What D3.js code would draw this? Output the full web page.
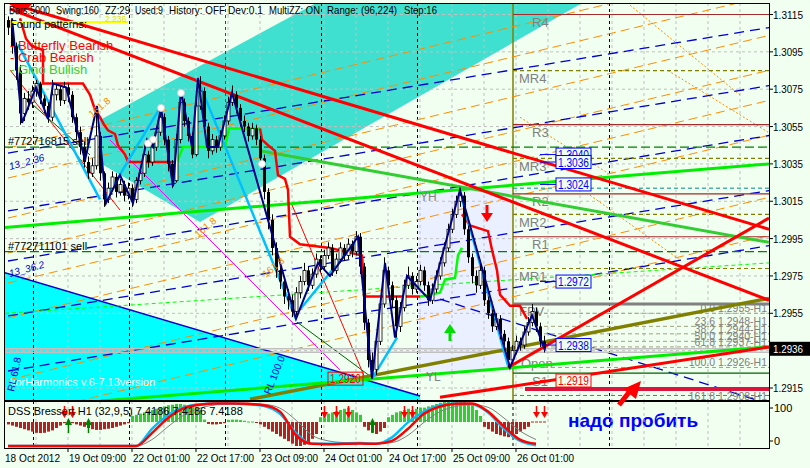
<!DOCTYPE html>
<html><head><meta charset="utf-8">
<script src="https://cdn.jsdelivr.net/npm/d3@7"></script>
<style>
body{margin:0;background:#F0FFF0;}
text{font-family:"Liberation Sans",Arial,sans-serif;}
</style></head>
<body><svg id="c" width="810" height="468"></svg>
<script>
// ---------------- DATA ----------------
const firstOpen = 1.3112;
const closes = [1.3108,1.3098,1.3085,1.3062,1.3070,1.3068,1.3074,1.3078,1.3070,1.3066,
1.3060,1.3072,1.3075,1.3069,1.3076,1.3072,1.3060,1.3052,1.3044,1.3036,
1.3030,1.3034,1.3050,1.3030,1.3016,1.3022,1.3028,1.3020,1.3024,1.3018,
1.3022,1.3016,1.3026,1.3030,1.3040,1.3036,1.3044,1.3052,1.3060,1.3048,
1.3035,1.3026,1.3048,1.3068,1.3058,1.3050,1.3040,1.3066,1.3074,1.3055,
1.3042,1.3048,1.3044,1.3050,1.3058,1.3068,1.3072,1.3065,1.3058,1.3055,
1.3050,1.3054,1.3048,1.3038,1.3020,1.3005,1.2990,1.2978,1.2972,1.2964,
1.2962,1.2956,1.2966,1.2972,1.2978,1.2970,1.2976,1.2984,1.2980,1.2986,
1.2990,1.2978,1.2984,1.2990,1.2986,1.2992,1.2988,1.2996,1.2980,1.2950,
1.2930,1.2925,1.2940,1.2960,1.2978,1.2970,1.2962,1.2948,1.2958,1.2970,
1.2975,1.2968,1.2972,1.2978,1.2970,1.2962,1.2968,1.2975,1.2982,1.2990,
1.3000,1.3008,1.3015,1.3018,1.3000,1.2985,1.2975,1.2970,1.2978,1.2962,
1.2955,1.2948,1.2952,1.2944,1.2940,1.2930,1.2935,1.2940,1.2938,1.2945,
1.2950,1.2956,1.2948,1.2940,1.2936];
const highs = [1.3114,1.3110,1.3100,1.3088,1.3073,1.3074,1.3077,1.3080,1.3079,1.3072,
1.3068,1.3080,1.3078,1.3077,1.3079,1.3078,1.3074,1.3062,1.3055,1.3047,
1.3039,1.3038,1.3064,1.3052,1.3031,1.3025,1.3031,1.3030,1.3027,1.3026,
1.3025,1.3024,1.3028,1.3034,1.3046,1.3042,1.3047,1.3055,1.3064,1.3062,
1.3050,1.3037,1.3051,1.3073,1.3070,1.3060,1.3052,1.3069,1.3082,1.3076,
1.3057,1.3051,1.3050,1.3053,1.3061,1.3071,1.3077,1.3074,1.3067,1.3061,
1.3057,1.3057,1.3056,1.3050,1.3040,1.3022,1.3008,1.2993,1.2981,1.2975,
1.2968,1.2965,1.2969,1.2975,1.2982,1.2980,1.2979,1.2987,1.2986,1.2989,
1.2993,1.2992,1.2987,1.2993,1.2992,1.2995,1.2994,1.2999,1.2998,1.2982,
1.2952,1.2934,1.2943,1.2963,1.2985,1.2980,1.2972,1.2964,1.2961,1.2973,
1.2980,1.2977,1.2975,1.2981,1.2980,1.2972,1.2971,1.2978,1.2985,1.2993,
1.3003,1.3011,1.3018,1.3022,1.3020,1.3002,1.2987,1.2978,1.2981,1.2980,
1.2964,1.2957,1.2955,1.2954,1.2946,1.2942,1.2938,1.2943,1.2942,1.2948,
1.2953,1.2960,1.2958,1.2950,1.2943];
const lows = [1.3104,1.3094,1.3080,1.3056,1.3058,1.3064,1.3065,1.3071,1.3067,1.3062,
1.3057,1.3058,1.3069,1.3066,1.3067,1.3068,1.3057,1.3048,1.3040,1.3033,
1.3027,1.3028,1.3032,1.3026,1.3012,1.3014,1.3020,1.3017,1.3018,1.3015,
1.3016,1.3012,1.3014,1.3024,1.3028,1.3033,1.3034,1.3042,1.3050,1.3045,
1.3031,1.3022,1.3025,1.3046,1.3055,1.3047,1.3038,1.3039,1.3064,1.3052,
1.3038,1.3040,1.3041,1.3042,1.3048,1.3056,1.3066,1.3062,1.3055,1.3052,
1.3047,1.3048,1.3045,1.3035,1.3016,1.3000,1.2986,1.2974,1.2968,1.2960,
1.2957,1.2953,1.2954,1.2963,1.2970,1.2967,1.2968,1.2974,1.2977,1.2978,
1.2984,1.2975,1.2976,1.2982,1.2983,1.2984,1.2985,1.2986,1.2976,1.2946,
1.2926,1.2920,1.2922,1.2938,1.2958,1.2966,1.2958,1.2942,1.2945,1.2956,
1.2968,1.2965,1.2966,1.2970,1.2967,1.2959,1.2960,1.2966,1.2973,1.2980,
1.2988,1.2998,1.3006,1.3012,1.2997,1.2982,1.2971,1.2966,1.2968,1.2959,
1.2952,1.2945,1.2946,1.2941,1.2936,1.2926,1.2928,1.2933,1.2935,1.2936,
1.2943,1.2948,1.2945,1.2937,1.2934];

const priceTicks = [1.3115,1.3095,1.3075,1.3055,1.3035,1.3015,1.2995,1.2975,1.2955,1.2935,1.2915];
const timeLabels = ["18 Oct 2012","19 Oct 09:00","22 Oct 01:00","22 Oct 17:00","23 Oct 09:00","24 Oct 01:00","24 Oct 17:00","25 Oct 09:00","26 Oct 01:00"];
const timeLabelBars = [-0.75,15,31,47,63,79,95,111,127];
const daySeparators = [6.25,30.25,54.25,78.25,102.25,150.25];
const lastPrice = 1.2936;

// zigzag & pattern legs [bar, price]
const zigzag = [[1,1.3113],[3.5,1.3057],[7,1.3076],[10,1.3059],[11.25,1.3078],[14.5,1.3076],[19.25,1.3037],[22.25,1.3066],[24.5,1.3014],[28,1.3029],[31.25,1.3014],[34.75,1.3048],[36.25,1.3044],[38.25,1.3065],[41.25,1.3023],[43.25,1.3074],[46,1.3044],[47.5,1.3081],[49.75,1.3044],[52.5,1.3044],[56,1.3073],[72,1.2952],[77.5,1.2982],[80.5,1.2975],[87.5,1.2996],[91,1.2920],[94.25,1.2982],[96.75,1.2942],[99.75,1.2975],[105.5,1.2962],[113,1.3021],[125.5,1.2926],[131,1.2954],[134.25,1.2935]];
const skyLegs = [[[2.5,1.3099],[23,1.3016]],[[24.25,1.3016],[38,1.3065]],[[47.25,1.3081],[72,1.2952]],[[73,1.2957],[87.5,1.2995]],[[91,1.2920],[97.25,1.2942]],[[113,1.3020],[125,1.2927]]];
const swingMarks = [[38.25,1.3065],[43.25,1.3073],[35,1.3046],[36.25,1.3048],[63.5,1.3035]];

// trailing stop steps
const stopRed1 = [[3,1.3113],[4.5,1.3102],[6,1.3098],[8.75,1.3096],[8.75,1.3078],[18.75,1.3078],[20.5,1.3072],[21.75,1.3064],[23,1.3060],[24,1.3056],[25,1.3053],[26.75,1.3051],[27.5,1.3045],[29.25,1.3040],[30,1.3036],[42.25,1.3036]];
const stopGreen1 = [[42.25,1.3036],[43.75,1.3044],[54.25,1.3044],[55.25,1.3054],[63,1.3054]];
const stopRed2 = [[63,1.3054],[63.5,1.3048],[65,1.3045],[66.75,1.3042],[67.5,1.3029],[69.25,1.3027],[70,1.3021],[70.5,1.2996],[73,1.2992],[80.5,1.2990],[88.5,1.2986],[89.25,1.2964],[103,1.2964]];
const stopGreen2 = [[103,1.2964],[108,1.2966],[109.25,1.2973],[111.75,1.2974],[112.5,1.2986],[113.5,1.2990]];
const stopRed3 = [[113.5,1.3008],[115.5,1.3002],[120,1.2999],[121,1.2989],[122.25,1.2978],[123,1.2965],[125.5,1.2959],[128,1.2959],[129.75,1.2952]];

// trend lines
const redThick = [[[0.5,1.3121],[190.25,1.3000]],[[0.5,1.3118],[190.25,1.2962]],[[125,1.2926],[190.25,1.3006]],[[108,1.2910],[190.25,1.2937]]];
const limeThick = [[[-0.75,1.3001],[190.25,1.3035]],[[23,1.2908],[190.25,1.2937]]];
const greenThick = [[[63,1.3042],[190.25,1.2993]]];
const oliveThick = [[[60.5,1.2909],[190.25,1.2963]]];
const lightGreenDash = [[-0.75,1.2955],[190.25,1.2982]];
const orangeDash = [[[0,1.30435],[190.25,1.31413]],[[0,1.30274],[190.25,1.31252]],[[0,1.3006],[190.25,1.31038]],[[0,1.29873],[190.25,1.30851]],[[0,1.29712],[190.25,1.3069]],[[0,1.29525],[190.25,1.30503]],[[0,1.29193],[190.25,1.30171]],[[0,1.2899],[190.25,1.29967]]];
const orangeThin = [[[155.5,1.3120],[183,1.30719]],[[145.5,1.30183],[168,1.29835]],[[128,1.3060],[150,1.3030]],[[165,1.3085],[190,1.3052]]];
const blueDash = [[[0,1.30408],[190.25,1.3108]],[[0,1.30098],[190.25,1.30769]],[[0,1.2983],[190.25,1.30502]],[[0,1.29536],[190.25,1.30207]],[[0,1.29241],[190.25,1.29912]],[[108,1.29626],[190.25,1.29064]]];
const magentaLine = [[25.5,1.30478],[83,1.29246]];
const darkGreenThin = [[[4.25,1.30703],[20.5,1.30398]],[[72.25,1.29503],[90.5,1.29214]]];
const redThin = [[[71,1.3013],[89.25,1.29203]],[[0.5,1.30853],[28,1.30103]]];
const turquoiseZone = [[23,1.30585],[77.75,1.3122],[144.25,1.3122],[48,1.30039],[23,1.30355]];
const aquaZone = [[-2,1.29775],[103,1.29107],[103,1.2900],[-2,1.2900]];
const yesterdayBox = {start:102.5, end:126.25, high:1.3021, low:1.29236};

// pivots
const pivotNames = ["R4","MR4","R3","MR3","R2","MR2","R1","MR1","FPV","S1"];
const pivotPrices = [1.3115,1.3085,1.3056,1.3038,1.3019,1.3008,1.2996,1.2979,1.2960,1.2923];
const orderLines = [1.3044,1.2988];
const orderNames = ["#772716815 sell","#772711101 sell"];
const boxPrices = [1.3040,1.3036,1.3024,1.2972,1.2938,1.2919];
const boxColors = ["blue","blue","blue","blue","blue","red"];
const fibLevels = ["0.0","23.6","38.2","50.0","61.8","100.0","161.8"];
const fibPrices = [1.2955,1.2948,1.2944,1.2940,1.2937,1.2926,1.2908];

// DSS sub window
const dssHist = [-0.10,-0.15,-0.2,-0.25,-0.3,-0.35,-0.4,-0.45,-0.46,-0.45,-0.4,-0.35,-0.25,-0.15,-0.05,0.05,-0.05,-0.1,-0.15,-0.2,
-0.25,-0.3,-0.33,-0.33,-0.3,-0.28,-0.25,-0.2,-0.15,-0.1,-0.05,
0.25,0.3,0.35,0.4,0.45,0.5,0.55,0.6,0.65,0.7,0.72,0.75,0.75,0.72,0.7,0.65,0.6,0.5,
0.1,-0.08,-0.1,-0.1,-0.08,-0.05,0.08,0.1,0.1,0.08,0.05,0.02,0.02,-0.02,
-0.1,-0.2,-0.3,-0.4,-0.5,-0.6,-0.7,-0.8,-0.9,-1,-1,-0.95,-0.85,-0.7,-0.5,
0.2,0.3,0.35,0.4,0.45,0.5,0.55,0.6,0.5,0.4,0.3,
-0.2,-0.35,-0.45,-0.5,-0.4,-0.25,
0.2,0.3,0.4,0.45,0.5,0.55,
0.5,0.55,0.6,0.6,0.65,0.7,0.75,0.8,0.85,0.85,0.9,0.92,0.9,0.88,0.8,0.7,0.5,0.25,
-0.2,-0.3,-0.4,-0.5,-0.55,-0.6,-0.63,-0.6,-0.5,-0.4,-0.3,-0.2,
0,0,0,0];
const dssMain = [0,0,0,0,0,0,0,0,0,40,72,90,97,99,99,97,93,75,30,5,5,6,7,5,20,55,80,95,99,97,78,40,12,2];
const dssSignal = [0,0,0,0,0,0,0,0,0,30,65,88,96,99,99,98,95,80,25,5,4,5,6,5,12,40,75,92,98,99,80,45,15,5];
const dssSlow = [0,0,0,0,0,0,0,0,0,15,45,72,88,96,99,99,97,88,60,25,12,8,7,6,8,25,55,80,92,96,90,65,35,15];
const dssStep = 4;
const sigDown = [14,16,79,82,85,99,101,132,134];
const sigUp = [15,20,91];

// header
const headerItems = ["Bars:5000","Swing:160","ZZ:29","Used:9","History: OFF","Dev:0.1","MultiZZ: ON","Range: (96,224)","Step:16"];
const patternNames = ["- Butterfly Bearish","- Crab Bearish","- Gino Bullish"];

// ---------------- DRAW ----------------
const svg = d3.select("#c");
const W=810,H=468, L=4, R=769, T=3, B=400, ST=401, SB=448;
svg.append("rect").attr("width",W).attr("height",H).attr("fill","#F0FFF0");

const xS = d3.scaleLinear().domain([0,134]).range([8,544]);
const yS = d3.scaleLinear().domain([1.2915,1.3115]).range([388,14.5]);
const dS = d3.scaleLinear().domain([0,100]).range([446,403]);
const hS = d3.scaleLinear().domain([-1,1]).range([446,398]);
const line = d3.line().x(d=>xS(d[0])).y(d=>yS(d[1]));

const defs = svg.append("defs");
defs.append("clipPath").attr("id","cm").append("rect").attr("x",L+1).attr("y",T+1).attr("width",R-L-1).attr("height",B-T-1);
defs.append("clipPath").attr("id","cs").append("rect").attr("x",L+1).attr("y",ST+1).attr("width",R-L-1).attr("height",SB-ST-1);

const g = svg.append("g").attr("clip-path","url(#cm)");

// zones
g.append("path").attr("d",line(turquoiseZone)+"Z").attr("fill","#40E0D0");
g.append("path").attr("d",line(aquaZone)+"Z").attr("fill","#00FFFF");
g.append("rect").attr("x",xS(yesterdayBox.start)).attr("y",yS(yesterdayBox.high))
 .attr("width",xS(yesterdayBox.end)-xS(yesterdayBox.start)).attr("height",yS(yesterdayBox.low)-yS(yesterdayBox.high))
 .attr("fill","#EAF0FF");

// grid
priceTicks.forEach(p=>g.append("line").attr("x1",L).attr("x2",R).attr("y1",yS(p)).attr("y2",yS(p))
 .attr("stroke","#C0C0C0").attr("stroke-dasharray","3,3"));
const gridBars = d3.range(-1,192,8);
gridBars.forEach(b=>g.append("line").attr("x1",xS(b)).attr("x2",xS(b)).attr("y1",T).attr("y2",B)
 .attr("stroke","#C0C0C0").attr("stroke-dasharray","3,3"));
daySeparators.forEach((b,k)=>g.append("line").attr("x1",xS(b)+0.5).attr("x2",xS(b)+0.5).attr("y1",T).attr("y2",B)
 .attr("stroke",k===2?"#E00000":"#000").attr("stroke-dasharray","3,3"));
g.append("line").attr("x1",xS(126.25)).attr("x2",xS(126.25)).attr("y1",T).attr("y2",B).attr("stroke","#808000").attr("stroke-width",1.5);

// fan/channel lines
orangeDash.forEach(s=>g.append("path").attr("d",line(s)).attr("stroke","#FF8C00").attr("fill","none").attr("stroke-dasharray","9,5"));
orangeThin.forEach(s=>g.append("path").attr("d",line(s)).attr("stroke","#FF8C00").attr("fill","none").attr("stroke-dasharray","2,2"));
blueDash.forEach(s=>g.append("path").attr("d",line(s)).attr("stroke","#0000CD").attr("fill","none").attr("stroke-width",1.3).attr("stroke-dasharray","10,6"));
g.append("path").attr("d",line(magentaLine)).attr("stroke","#FF00FF").attr("fill","none");
darkGreenThin.forEach(s=>g.append("path").attr("d",line(s)).attr("stroke","#006400").attr("fill","none"));
redThin.forEach(s=>g.append("path").attr("d",line(s)).attr("stroke","#FF0000").attr("fill","none"));
g.append("path").attr("d",line([aquaZone[0],aquaZone[1]])).attr("stroke","#0000CD").attr("stroke-width",1.5).attr("fill","none");
g.append("path").attr("d",line(lightGreenDash)).attr("stroke","#00FF00").attr("fill","none").attr("stroke-dasharray","4,3");

// pivot lines
const pvX0 = xS(126.25);
pivotNames.forEach((n,k)=>{
  const p = pivotPrices[k], y = yS(p);
  let col="#A52A2A", dash=null, w=1.2;
  if(n.startsWith("M")){col="#808000";dash="4,3";}
  if(n==="FPV"){col="#808080";w=3;}
  if(n==="S1"){col="#006400";}
  g.append("line").attr("x1",pvX0).attr("x2",R).attr("y1",y).attr("y2",y).attr("stroke",col).attr("stroke-width",w).attr("stroke-dasharray",dash);
  g.append("text").attr("x",n.length>2||n.startsWith("M")?pvX0+6:pvX0+19).attr("y",y+12.5).attr("fill","#808080").attr("font-size",13).text(n);
});
g.append("line").attr("x1",pvX0).attr("x2",R).attr("y1",yS(1.3022)).attr("y2",yS(1.3022)).attr("stroke","#008B8B").attr("stroke-dasharray","4,3");
g.append("line").attr("x1",pvX0).attr("x2",R).attr("y1",yS(1.2911)).attr("y2",yS(1.2911)).attr("stroke","#808000").attr("stroke-dasharray","4,3");
g.append("text").attr("x",pvX0+8).attr("y",yS(1.2932)+12).attr("fill","#808080").attr("font-size",13).text("Open");
g.append("text").attr("x",pvX0+6).attr("y",yS(1.2905)+12).attr("fill","#808080").attr("font-size",13).text("MS2");
orderLines.forEach(p=>g.append("line").attr("x1",L).attr("x2",R).attr("y1",yS(p)).attr("y2",yS(p)).attr("stroke","#008000").attr("stroke-width",1.2).attr("stroke-dasharray","9,4"));
fibPrices.forEach((p,k)=>{
  g.append("line").attr("x1",xS(134)).attr("x2",R).attr("y1",yS(p)).attr("y2",yS(p)).attr("stroke","#A0A080").attr("stroke-dasharray","4,3");
  g.append("text").attr("x",R-2).attr("y",yS(p)-1).attr("text-anchor","end").attr("fill","#808080").attr("font-size",10.5).text(fibLevels[k]+" "+p.toFixed(4)+"-H1");
});
// bid lines
g.append("line").attr("x1",L).attr("x2",R).attr("y1",yS(lastPrice)).attr("y2",yS(lastPrice)).attr("stroke","#C0C0C0").attr("stroke-width",1.5);
g.append("line").attr("x1",L).attr("x2",R).attr("y1",yS(lastPrice-0.00018)).attr("y2",yS(lastPrice-0.00018)).attr("stroke","#C0C0C0").attr("stroke-width",1.5);

// thick trend lines
oliveThick.forEach(s=>g.append("path").attr("d",line(s)).attr("stroke","#808000").attr("stroke-width",3.5).attr("fill","none"));
limeThick.forEach(s=>g.append("path").attr("d",line(s)).attr("stroke","#00EE00").attr("stroke-width",3).attr("fill","none"));
greenThick.forEach(s=>g.append("path").attr("d",line(s)).attr("stroke","#32CD32").attr("stroke-width",3).attr("fill","none"));
redThick.forEach(s=>g.append("path").attr("d",line(s)).attr("stroke","#FF0000").attr("stroke-width",3).attr("fill","none"));
g.append("line").attr("x1",xS(129.25)).attr("x2",R).attr("y1",yS(1.29145)).attr("y2",yS(1.29145)).attr("stroke","#DC143C").attr("stroke-width",4);

// trailing stop
[[stopRed1,"#FF0000"],[stopGreen1,"#00FF00"],[stopRed2,"#FF0000"],[stopGreen2,"#00FF00"],[stopRed3,"#FF0000"]]
 .forEach(([s,c])=>g.append("path").attr("d",line(s)).attr("stroke",c).attr("stroke-width",2.5).attr("fill","none"));

// pattern legs
skyLegs.forEach(s=>g.append("path").attr("d",line(s)).attr("stroke","#00BFFF").attr("stroke-width",2.5).attr("fill","none"));

// candles
closes.forEach((c,i)=>{
  const o = i?closes[i-1]:firstOpen, x=xS(i);
  g.append("line").attr("x1",x+0.5).attr("x2",x+0.5).attr("y1",yS(highs[i])).attr("y2",yS(lows[i])).attr("stroke","#000");
  const top=yS(Math.max(o,c)), bot=yS(Math.min(o,c));
  g.append("rect").attr("x",x-1).attr("y",top).attr("width",3).attr("height",Math.max(1,bot-top))
   .attr("fill",c>=o?"#FFF":"#000").attr("stroke","#000").attr("stroke-width",c>=o?0.8:0);
});
g.append("path").attr("d",line(zigzag)).attr("stroke","#000080").attr("stroke-width",2).attr("fill","none");
swingMarks.forEach(d=>g.append("circle").attr("cx",xS(d[0])).attr("cy",yS(d[1])).attr("r",3.5).attr("fill","#FFF").attr("stroke","#D0D0D0"));

// price boxes
boxPrices.forEach((p,k)=>{
  const y=yS(p), c=boxColors[k];
  g.append("line").attr("x1",xS(133)).attr("x2",xS(137)).attr("y1",y).attr("y2",y).attr("stroke",c);
  g.append("rect").attr("x",xS(137)).attr("y",y-6.5).attr("width",35).attr("height",13).attr("fill","#F0FFF0").attr("stroke",c);
  g.append("text").attr("x",xS(137)+2).attr("y",y+4.5).attr("fill",c).attr("font-size",12).attr("textLength",31).attr("lengthAdjust","spacingAndGlyphs").text(p.toFixed(4));
});
g.append("rect").attr("x",xS(80)).attr("y",yS(1.2920)-6.5).attr("width",35).attr("height",13).attr("fill","none").attr("stroke","red");
g.append("text").attr("x",xS(80)+2).attr("y",yS(1.2920)+4.5).attr("fill","red").attr("font-size",12).attr("textLength",31).attr("lengthAdjust","spacingAndGlyphs").text("1.2920");

// texts
g.append("text").attr("x",xS(103)).attr("y",yS(yesterdayBox.high)+11).attr("fill","#808080").attr("font-size",12).text("YH");
g.append("text").attr("x",xS(104.5)).attr("y",yS(yesterdayBox.low)+9).attr("fill","#808080").attr("font-size",12).text("YL");
orderNames.forEach((n,k)=>g.append("text").attr("x",8).attr("y",yS(orderLines[k])-2).attr("font-size",11).attr("fill","#000").text(n));
g.append("text").attr("x",10).attr("y",386).attr("fill","#FFF").attr("font-size",11).text("korHarmonics v.6-7.13version");
g.append("line").attr("x1",10).attr("x2",128).attr("y1",22).attr("y2",22).attr("stroke","#FFFF00").attr("stroke-width",2);
g.append("text").attr("x",105).attr("y",21.5).attr("fill","#E0E000").attr("font-size",8.5).text("2.236");
[["13_2.36",10,170,-15],["13_36.2",10,277,-15]].forEach(t=>g.append("text").attr("transform",`translate(${t[1]},${t[2]}) rotate(${t[3]})`).attr("fill","#0000CD").attr("font-size",10).attr("font-style","italic").text(t[0]));
[["RL 61.8",14,392,-78],["RL 100.0",270,395,-68]].forEach(t=>g.append("text").attr("transform",`translate(${t[1]},${t[2]}) rotate(${t[3]})`).attr("fill","#0000CD").attr("font-size",10).text(t[0]));
[["161.8",92,118,-40],["161.8",266,278,-40],["161.8",198,238,-40]].forEach(t=>g.append("text").attr("transform",`translate(${t[1]},${t[2]}) rotate(${t[3]})`).attr("fill","#FF8C00").attr("font-size",10).text(t[0]));

// arrows
g.append("line").attr("x1",487).attr("x2",487).attr("y1",205).attr("y2",215).attr("stroke","#FF0000").attr("stroke-width",3);
g.append("path").attr("d","M481,213 L493,213 L487,222 Z").attr("fill","#FF0000");
g.append("line").attr("x1",450).attr("x2",450).attr("y1",331).attr("y2",341).attr("stroke","#00DD00").attr("stroke-width",3);
g.append("path").attr("d","M444,333 L456,333 L450,324 Z").attr("fill","#00DD00");
g.append("path").attr("d","M10,4 L32,4 L21,15 Z").attr("fill","#FF0000");

// header texts (x start, width as in the reference)
const hdrX = [9,56,105,135,169,228,269,327,404];
const hdrW = [41,43,25,28,56,35,51,70,33];
headerItems.forEach((h,k)=>g.append("text").attr("x",hdrX[k]).attr("y",14).attr("font-size",11).attr("fill","#000")
  .attr("textLength",hdrW[k]).attr("lengthAdjust","spacingAndGlyphs").text(h));
g.append("text").attr("x",10).attr("y",28).attr("font-size",11).attr("fill","#000").text("Found patterns:");
const patColors = ["#FF0000","#FF0000","#32CD32"];
patternNames.forEach((t,k)=>g.append("text").attr("x",10).attr("y",50+k*12).attr("font-size",13).attr("fill",patColors[k]).text(t));

// frames
svg.append("rect").attr("x",L+0.5).attr("y",T+0.5).attr("width",R-L).attr("height",B-T).attr("fill","none").attr("stroke","#000");
svg.append("rect").attr("x",L+0.5).attr("y",ST+0.5).attr("width",R-L).attr("height",SB-ST).attr("fill","none").attr("stroke","#000");

// price axis
priceTicks.forEach(p=>{
  svg.append("line").attr("x1",R).attr("x2",R+4).attr("y1",yS(p)).attr("y2",yS(p)).attr("stroke","#000");
  if(Math.abs(yS(p)-yS(lastPrice))<12) return;
  svg.append("text").attr("x",773).attr("y",yS(p)+4).attr("font-size",11).attr("fill","#000")
   .attr("textLength",30).attr("lengthAdjust","spacingAndGlyphs").text(p.toFixed(4));
});
svg.append("rect").attr("x",R+1).attr("y",yS(lastPrice)-7).attr("width",40).attr("height",14).attr("fill","#000");
svg.append("text").attr("x",773).attr("y",yS(lastPrice)+4).attr("font-size",11).attr("fill","#FFF")
 .attr("textLength",30).attr("lengthAdjust","spacingAndGlyphs").text(lastPrice.toFixed(4));

// red pointer arrow + note
svg.append("line").attr("x1",619).attr("y1",405).attr("x2",630).attr("y2",391).attr("stroke","#FF0000").attr("stroke-width",5);
svg.append("path").attr("d","M623,389 L641,381 L636,399 Z").attr("fill","#FF0000");
svg.append("text").attr("x",568).attr("y",427).attr("font-size",19).attr("font-weight","bold").attr("fill","#0000FF").text("надо пробить");

// sub window
const s = svg.append("g").attr("clip-path","url(#cs)");
gridBars.forEach(b=>s.append("line").attr("x1",xS(b)).attr("x2",xS(b)).attr("y1",ST).attr("y2",SB).attr("stroke","#C0C0C0").attr("stroke-dasharray","3,3"));
daySeparators.forEach(b=>s.append("line").attr("x1",xS(b)+0.5).attr("x2",xS(b)+0.5).attr("y1",ST).attr("y2",SB).attr("stroke","#000").attr("stroke-dasharray","3,3"));
s.append("line").attr("x1",xS(126.25)).attr("x2",xS(126.25)).attr("y1",ST).attr("y2",SB).attr("stroke","#000").attr("stroke-dasharray","3,3");
dssHist.forEach((v,i)=>{
  const x=xS(i);
  if(v===0){s.append("line").attr("x1",x-1).attr("x2",x+2).attr("y1",hS(0)).attr("y2",hS(0)).attr("stroke","#B22222");return;}
  const y0=hS(0), y1=hS(v);
  s.append("rect").attr("x",x-1).attr("y",Math.min(y0,y1)).attr("width",3).attr("height",Math.max(1,Math.abs(y1-y0)))
   .attr("fill",v>0?"#32CD32":"#B22222");
});
const dl = d3.line().x((d,k)=>xS(k*dssStep)).y(d=>dS(d)).curve(d3.curveMonotoneX);
s.append("path").attr("d",dl(dssSlow)).attr("stroke","#808080").attr("fill","none").attr("stroke-width",1);
s.append("path").attr("d",dl(dssMain)).attr("stroke","#00BFFF").attr("fill","none").attr("stroke-width",2.5);
s.append("path").attr("d",dl(dssSignal)).attr("stroke","#FF0000").attr("fill","none").attr("stroke-width",2.5);
sigDown.forEach(b=>{const x=xS(b)+0.5;
  s.append("line").attr("x1",x).attr("x2",x).attr("y1",406).attr("y2",414).attr("stroke","#FF0000").attr("stroke-width",1.5);
  s.append("path").attr("d",`M${x-3.5},${412} L${x+3.5},${412} L${x},${418} Z`).attr("fill","#FF0000");});
sigUp.forEach(b=>{const x=xS(b)+0.5;
  s.append("line").attr("x1",x).attr("x2",x).attr("y1",424).attr("y2",433).attr("stroke","#008000").attr("stroke-width",1.5);
  s.append("path").attr("d",`M${x-3.5},${425} L${x+3.5},${425} L${x},${418} Z`).attr("fill","#008000");});
s.append("text").attr("x",8).attr("y",415).attr("font-size",11).attr("fill","#000").text("DSS Bressert H1 (32,9,5) 7.4186 7.4186 7.4188");
svg.append("text").attr("x",774).attr("y",412).attr("font-size",11).text("100");
svg.append("text").attr("x",774).attr("y",445).attr("font-size",11).text("0");
[408,441].forEach(y=>svg.append("line").attr("x1",R).attr("x2",R+4).attr("y1",y).attr("y2",y).attr("stroke","#000"));

// time axis
timeLabels.forEach((t,k)=>{
  const x=xS(timeLabelBars[k]);
  if(k>0) svg.append("line").attr("x1",x).attr("x2",x).attr("y1",SB).attr("y2",SB+4).attr("stroke","#000");
  svg.append("text").attr("x",k?x+1:5).attr("y",462).attr("font-size",11).attr("fill","#000")
   .attr("textLength",k?57:55).attr("lengthAdjust","spacingAndGlyphs").text(t);
});
</script></body></html>
